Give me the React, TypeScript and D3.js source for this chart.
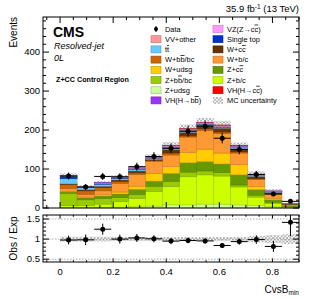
import * as d3 from "d3";

// CvsB_min binning (14 bins, 0 to 0.9)
const binEdges = [0, 0.0643, 0.1286, 0.1929, 0.2571, 0.3214, 0.3857, 0.45, 0.5143, 0.5786, 0.6429, 0.7071, 0.7714, 0.8357, 0.9];

// stacked MC components, bottom to top (events per bin)
const zUdsg = [2, 1, 2, 2, 3, 5, 8, 8, 10, 10, 8, 6, 3, 1];
const zBc = [4, 5, 8, 14, 22, 38, 47, 72, 75, 72, 46, 22, 9, 1.5];
const zBbBc = [32, 15, 14, 11, 10, 13, 13, 12, 10, 9, 5, 5, 3, 1];
const zCc = [3, 5, 7, 9, 13, 13, 21, 24, 24, 22, 26, 14, 6, 2];
const wUdsg = [1, 2, 3, 5, 8, 20, 17, 26, 32, 28, 26, 8, 3, 1];
const wBc = [8, 7, 10, 22, 30, 31, 30, 40, 48, 50, 30, 18, 11, 2.5];
const wBbBc = [10, 9, 8, 5, 4, 2, 5, 3, 4, 4, 3, 2, 2, 0.5];
const wCc = [2, 3, 4, 4, 5, 3, 9, 9, 10, 10, 7, 6, 3, 1];
const ttbar = [13, 5, 5, 4, 4, 2, 4, 3, 2, 2, 3, 2, 1.5, 0.5];
const singleTop = [7, 2, 2, 2, 2, 1, 2, 2, 1, 1, 1, 1, 0.5, 0.3];
const vvOther = [1, 1, 1, 1, 1, 1, 2, 2, 2, 2, 2, 1.5, 1, 0.4];
const vzCc = [0.5, 0, 0.5, 0.5, 0.5, 1, 1.5, 1.5, 1, 1.5, 1.5, 1, 0.5, 0.2];
const vhBb = [0.5, 0, 0.5, 0.5, 0.5, 1, 1, 1, 0.5, 1, 1, 0.5, 0.5, 0.1];
const vhCc = [0, 0, 0, 0, 0, 0, 0.5, 0.5, 0.5, 0.5, 0.5, 0, 0, 0];

const dataCounts = [82, 54, 81, 80, 106, 132, 153, 197, 210, 179, 150, 86, 36, 17];
const mcRelUnc = [0.06, 0.06, 0.06, 0.05, 0.05, 0.05, 0.05, 0.05, 0.05, 0.05, 0.05, 0.08, 0.1, 0.12];

const yTicks = [0, 100, 200, 300, 400];
const xTicks = [0, 0.2, 0.4, 0.6, 0.8];
const ratioTicks = [0.5, 1, 1.5];

const components = [
  { key: "zUdsg", values: zUdsg, color: "#ccff99" },
  { key: "zBc", values: zBc, color: "#ccff00" },
  { key: "zBbBc", values: zBbBc, color: "#99cc00" },
  { key: "zCc", values: zCc, color: "#669900" },
  { key: "wUdsg", values: wUdsg, color: "#ffcc00" },
  { key: "wBc", values: wBc, color: "#ff9933" },
  { key: "wBbBc", values: wBbBc, color: "#cc6600" },
  { key: "wCc", values: wCc, color: "#663300" },
  { key: "ttbar", values: ttbar, color: "#66ccff" },
  { key: "singleTop", values: singleTop, color: "#0033cc" },
  { key: "vvOther", values: vvOther, color: "#ff9999" },
  { key: "vzCc", values: vzCc, color: "#ff99ff" },
  { key: "vhBb", values: vhBb, color: "#9933ff" },
  { key: "vhCc", values: vhCc, color: "#ff0000" },
];
const colorOf: Record<string, string> = {};
components.forEach((c) => (colorOf[c.key] = c.color));

// legend: [text, overline] parts
type Part = [string, boolean];
const legendLeft: { key: string; parts: Part[] }[] = [
  { key: "data", parts: [["Data", false]] },
  { key: "vvOther", parts: [["VV+other", false]] },
  { key: "ttbar", parts: [["t", false], ["t", true]] },
  { key: "wBbBc", parts: [["W+b", false], ["b", true], ["/bc", false]] },
  { key: "wUdsg", parts: [["W+udsg", false]] },
  { key: "zBbBc", parts: [["Z+b", false], ["b", true], ["/bc", false]] },
  { key: "zUdsg", parts: [["Z+udsg", false]] },
  { key: "vhBb", parts: [["VH(H\u2192b", false], ["b", true], [")", false]] },
];
const legendRight: { key: string; parts: Part[] }[] = [
  { key: "vzCc", parts: [["VZ(Z\u2192c", false], ["c", true], [")", false]] },
  { key: "singleTop", parts: [["Single top", false]] },
  { key: "wCc", parts: [["W+c", false], ["c", true]] },
  { key: "wBc", parts: [["W+b/c", false]] },
  { key: "zCc", parts: [["Z+c", false], ["c", true]] },
  { key: "zBc", parts: [["Z+b/c", false]] },
  { key: "vhCc", parts: [["VH(H\u2192c", false], ["c", true], [")", false]] },
  { key: "unc", parts: [["MC uncertainty", false]] },
];

const FONT = "'Liberation Sans', Arial, Helvetica, sans-serif";

const L = 43, R = 299, MT = 17, MB = 208, RT = 215, RB = 262;

export default function App() {
  const nb = dataCounts.length;
  const x = d3.scaleLinear().domain([-binEdges[nb] / nb, binEdges[nb]]).range([L, R]);
  const y = d3.scaleLinear().domain([0, 490]).range([MB, MT]);
  const yr = d3.scaleLinear().domain([0.43, 1.6]).range([RB, RT]);

  const rows = d3.range(nb).map((i) => {
    const r: Record<string, number> = {};
    components.forEach((c) => (r[c.key] = c.values[i]));
    return r;
  });
  const stacked = d3.stack<Record<string, number>>().keys(components.map((c) => c.key))(rows);
  const totals = rows.map((r) => d3.sum(components, (c) => r[c.key]));

  const xMinor = d3.range(-0.05, 0.91, 0.05).filter((v) => v > x.domain()[0]);
  const yMinor = d3.range(20, 490, 20);
  const rMinor = d3.range(0.5, 1.6, 0.1);

  const legRow = (i: number) => 29 + i * 10.2;

  const renderLabel = (parts: Part[]) =>
    parts.map(([t, o], j) => (
      <tspan key={j} style={o ? { textDecoration: "overline" } : undefined}>
        {t}
      </tspan>
    ));

  const legendItem = (item: { key: string; parts: Part[] }, i: number, bx: number) => {
    const cy = legRow(i);
    let sym;
    if (item.key === "data") {
      sym = (
        <g>
          <line x1={bx + 5} x2={bx + 5} y1={cy - 3} y2={cy + 3} stroke="#000" strokeWidth={1} />
          <circle cx={bx + 5} cy={cy} r={2} fill="#000" />
        </g>
      );
    } else if (item.key === "unc") {
      sym = <rect x={bx} y={cy - 3.5} width={10} height={7} fill="url(#hatch)" />;
    } else {
      sym = (
        <rect x={bx} y={cy - 3.5} width={10} height={7} fill={colorOf[item.key]}
          stroke={d3.color(colorOf[item.key])!.darker(0.8).toString()} strokeWidth={0.6} />
      );
    }
    return (
      <g key={item.key}>
        {sym}
        <text x={bx + 14} y={cy + 2.6} fontSize={7.4} fontFamily={FONT} fill="#000">
          {renderLabel(item.parts)}
        </text>
      </g>
    );
  };

  return (
    <svg width={312} height={299} style={{ position: "absolute", left: 0, top: 0, background: "#fff" }}>
      <defs>
        <pattern id="hatch" patternUnits="userSpaceOnUse" width={3.5} height={3.5}>
          <path d="M0,0 L3.5,3.5 M3.5,0 L0,3.5" stroke="#888" strokeWidth={0.6} />
        </pattern>
      </defs>

      {/* stacked histograms */}
      {stacked.map((layer) => (
        <g key={layer.key}>
          {layer.map((d, i) =>
            d[1] - d[0] > 0 ? (
              <rect key={i} x={x(binEdges[i])} width={x(binEdges[i + 1]) - x(binEdges[i])}
                y={y(d[1])} height={y(d[0]) - y(d[1])} fill={colorOf[layer.key]}
                stroke={d3.color(colorOf[layer.key])!.darker(0.7).toString()} strokeWidth={0.5} />
            ) : null
          )}
        </g>
      ))}

      {/* MC uncertainty */}
      {totals.map((t, i) => (
        <rect key={i} x={x(binEdges[i])} width={x(binEdges[i + 1]) - x(binEdges[i])}
          y={y(t * (1 + mcRelUnc[i]))} height={y(t * (1 - mcRelUnc[i])) - y(t * (1 + mcRelUnc[i]))}
          fill="url(#hatch)" />
      ))}

      {/* data */}
      {dataCounts.map((n, i) => {
        const cx = (x(binEdges[i]) + x(binEdges[i + 1])) / 2;
        const e = Math.sqrt(n);
        return (
          <g key={i}>
            <line x1={x(binEdges[i])} x2={x(binEdges[i + 1])} y1={y(n)} y2={y(n)} stroke="#000" />
            <line x1={cx} x2={cx} y1={y(n + e)} y2={y(Math.max(n - e, 0))} stroke="#000" />
            <circle cx={cx} cy={y(n)} r={2.5} fill="#000" />
          </g>
        );
      })}

      {/* main frame + ticks */}
      <rect x={L} y={MT} width={R - L} height={MB - MT} fill="none" stroke="#000" strokeWidth={1} />
      {yTicks.map((t) => (
        <g key={t}>
          <line x1={L} x2={L + 6} y1={y(t)} y2={y(t)} stroke="#000" />
          <line x1={R} x2={R - 6} y1={y(t)} y2={y(t)} stroke="#000" />
          <text x={L - 3} y={y(t) + 3.3} fontSize={9.5} textAnchor="end" fontFamily={FONT}>{t}</text>
        </g>
      ))}
      {yMinor.filter((t) => t % 100 !== 0).map((t) => (
        <g key={t}>
          <line x1={L} x2={L + 3} y1={y(t)} y2={y(t)} stroke="#000" />
          <line x1={R} x2={R - 3} y1={y(t)} y2={y(t)} stroke="#000" />
        </g>
      ))}
      {xMinor.map((v, i) => {
        const major = xTicks.some((t) => Math.abs(t - v) < 1e-6);
        const len = major ? 6 : 3;
        return (
          <g key={i}>
            <line x1={x(v)} x2={x(v)} y1={MT} y2={MT + len} stroke="#000" />
            <line x1={x(v)} x2={x(v)} y1={MB} y2={MB - len} stroke="#000" />
            <line x1={x(v)} x2={x(v)} y1={RT} y2={RT + len * 0.6} stroke="#000" />
            <line x1={x(v)} x2={x(v)} y1={RB} y2={RB - len * 0.6} stroke="#000" />
          </g>
        );
      })}

      {/* ratio panel */}
      {ratioTicks.map((t) => (
        <line key={t} x1={L} x2={R} y1={yr(t)} y2={yr(t)} stroke="#888" strokeWidth={0.7} strokeDasharray="1.5 1.5" />
      ))}
      {totals.map((t, i) => (
        <rect key={i} x={x(binEdges[i])} width={x(binEdges[i + 1]) - x(binEdges[i])}
          y={yr(1 + mcRelUnc[i])} height={yr(1 - mcRelUnc[i]) - yr(1 + mcRelUnc[i])} fill="url(#hatch)" />
      ))}
      {dataCounts.map((n, i) => {
        const cx = (x(binEdges[i]) + x(binEdges[i + 1])) / 2;
        const r = n / totals[i];
        const e = Math.sqrt(n) / totals[i];
        return (
          <g key={i}>
            <line x1={x(binEdges[i])} x2={x(binEdges[i + 1])} y1={yr(r)} y2={yr(r)} stroke="#000" />
            <line x1={cx} x2={cx} y1={yr(Math.min(r + e, 1.6))} y2={yr(r - e)} stroke="#000" />
            <circle cx={cx} cy={yr(r)} r={2.5} fill="#000" />
          </g>
        );
      })}
      <rect x={L} y={RT} width={R - L} height={RB - RT} fill="none" stroke="#000" strokeWidth={1} />
      {rMinor.map((t, i) => {
        const major = ratioTicks.some((m) => Math.abs(m - t) < 1e-6);
        const len = major ? 6 : 3;
        return (
          <g key={i}>
            <line x1={L} x2={L + len} y1={yr(t)} y2={yr(t)} stroke="#000" />
            <line x1={R} x2={R - len} y1={yr(t)} y2={yr(t)} stroke="#000" />
          </g>
        );
      })}
      {ratioTicks.map((t) => (
        <text key={t} x={L - 3} y={yr(t) + 3.3} fontSize={9.5} textAnchor="end" fontFamily={FONT}>{t}</text>
      ))}
      {xTicks.map((t) => (
        <text key={t} x={x(t)} y={275} fontSize={9.5} textAnchor="middle" fontFamily={FONT}>{t}</text>
      ))}

      {/* axis titles */}
      <text transform="translate(17,17) rotate(-90)" fontSize={10} textAnchor="end" fontFamily={FONT}>Events</text>
      <text transform={`translate(17,${(RT + RB) / 2}) rotate(-90)`} fontSize={10} textAnchor="middle" fontFamily={FONT}>Obs / Exp</text>
      <text x={R} y={293} fontSize={10} textAnchor="end" fontFamily={FONT}>
        CvsB<tspan fontSize={6.5} dy={2}>min</tspan>
      </text>

      {/* labels */}
      <text x={R} y={12} fontSize={9.5} textAnchor="end" fontFamily={FONT}>
        35.9 fb<tspan fontSize={6.5} dy={-3.5}>-1</tspan><tspan dy={3.5}> (13 TeV)</tspan>
      </text>
      <text x={53} y={37} fontSize={14} fontWeight="bold" fontFamily={FONT}>CMS</text>
      <text x={54} y={49} fontSize={9} fontStyle="italic" fontFamily={FONT}>Resolved-jet</text>
      <text x={54} y={61} fontSize={9} fontStyle="italic" fontFamily={FONT}>0L</text>
      <text x={56} y={82} fontSize={7.2} fontWeight="bold" fontFamily={FONT}>Z+CC Control Region</text>

      {legendLeft.map((it, i) => legendItem(it, i, 151))}
      {legendRight.map((it, i) => legendItem(it, i, 213))}
    </svg>
  );
}
